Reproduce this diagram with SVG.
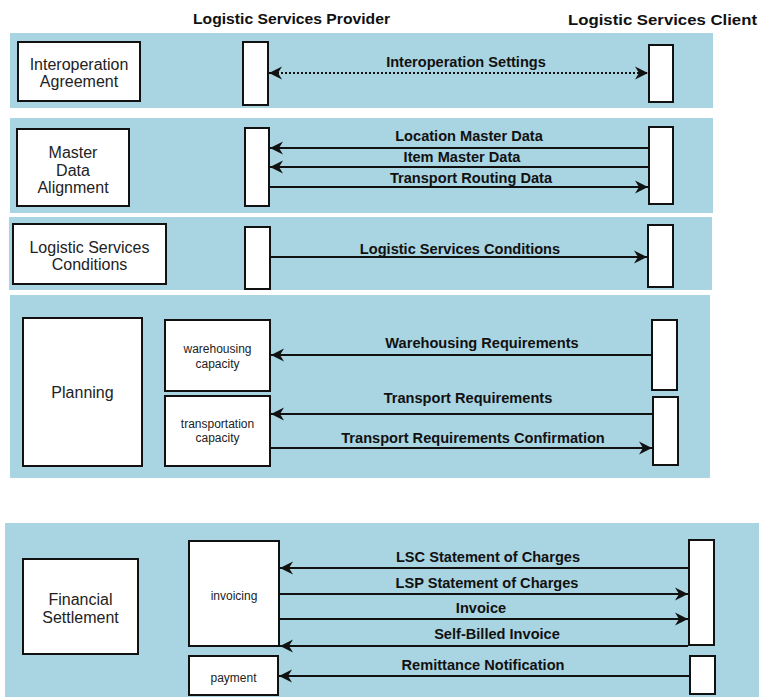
<svg xmlns="http://www.w3.org/2000/svg" width="759" height="697" viewBox="0 0 759 697">
<defs>
<style>
.band{fill:#a9d4e1;stroke:none}
.box{fill:#fff;stroke:#111;stroke-width:2}
.node{font-family:"Liberation Sans",Arial,sans-serif;font-size:16px;fill:#222;text-anchor:middle}
.small{font-family:"Liberation Sans",Arial,sans-serif;font-size:12px;fill:#222;text-anchor:middle}
.hdr{font-family:"Liberation Sans",Arial,sans-serif;font-size:15.5px;font-weight:bold;fill:#111}
.lbl{font-family:"Liberation Sans",Arial,sans-serif;font-size:14.6px;font-weight:bold;fill:#111;text-anchor:middle}
.msg{stroke:#111;stroke-width:2;fill:none}
.dot{stroke-dasharray:2,2}
</style>
<marker id="ah" markerUnits="userSpaceOnUse" markerWidth="14" markerHeight="14" refX="13" refY="6.5" orient="auto-start-reverse" viewBox="0 0 14 13">
<path d="M0,0 L13,6.5 L0,13 L4,6.5 z" fill="#111"/>
</marker>
</defs>
<rect width="759" height="697" fill="#fff"/>
<g id="headers">
<text class="hdr" x="193" y="24" textLength="197" lengthAdjust="spacingAndGlyphs">Logistic Services Provider</text>
<text class="hdr" x="568" y="25" textLength="189" lengthAdjust="spacingAndGlyphs">Logistic Services Client</text>
</g>
<g id="bands">
<rect class="band" x="10" y="33" width="703" height="75"/>
<rect class="band" x="10" y="118" width="703" height="95"/>
<rect class="band" x="9" y="217" width="703" height="73"/>
<rect class="band" x="10" y="295" width="700" height="183"/>
<rect class="band" x="5" y="523" width="754" height="174"/>
</g>
<g id="interoperation-agreement">
<rect class="box" x="18" y="42" width="122" height="59"/>
<text class="node" x="79" y="70">Interoperation</text>
<text class="node" x="79" y="87">Agreement</text>
</g>
<g id="master-data-alignment">
<rect class="box" x="17" y="129" width="112" height="77"/>
<text class="node" x="73" y="158">Master</text>
<text class="node" x="73" y="176">Data</text>
<text class="node" x="73" y="193">Alignment</text>
</g>
<g id="logistic-services-conditions">
<rect class="box" x="13" y="224" width="153" height="60"/>
<text class="node" x="89.5" y="253">Logistic Services</text>
<text class="node" x="89.5" y="270">Conditions</text>
</g>
<g id="planning">
<rect class="box" x="23" y="318" width="119" height="148"/>
<text class="node" x="82.5" y="398">Planning</text>
</g>
<g id="financial-settlement">
<rect class="box" x="23" y="559" width="115" height="95"/>
<text class="node" x="80.5" y="605">Financial</text>
<text class="node" x="80.5" y="623">Settlement</text>
</g>
<g id="provider-lifelines">
<rect class="box" x="243" y="42" width="25" height="63"/>
<rect class="box" x="245" y="128" width="24" height="78"/>
<rect class="box" x="245" y="227" width="25" height="62"/>
</g>
<g id="warehousing-capacity">
<rect class="box" x="165" y="320" width="105" height="71"/>
<text class="small" x="217.5" y="353">warehousing</text>
<text class="small" x="217.5" y="368">capacity</text>
</g>
<g id="transportation-capacity">
<rect class="box" x="165" y="396" width="105" height="70"/>
<text class="small" x="217.5" y="428">transportation</text>
<text class="small" x="217.5" y="442">capacity</text>
</g>
<g id="invoicing">
<rect class="box" x="189" y="541" width="90" height="105"/>
<text class="small" x="234" y="600">invoicing</text>
</g>
<g id="payment">
<rect class="box" x="189" y="656" width="89" height="39"/>
<text class="small" x="233.5" y="682">payment</text>
</g>
<g id="client-lifelines">
<rect class="box" x="649" y="45" width="24" height="57"/>
<rect class="box" x="649" y="127" width="24" height="77"/>
<rect class="box" x="648" y="225" width="25" height="62"/>
<rect class="box" x="652" y="320" width="25" height="70"/>
<rect class="box" x="653" y="397" width="25" height="68"/>
<rect class="box" x="689" y="540" width="25" height="105"/>
<rect class="box" x="690" y="656" width="25" height="38"/>
</g>
<g id="connectors">
<line class="msg dot" x1="269" y1="73" x2="648" y2="73" marker-start="url(#ah)" marker-end="url(#ah)"/>
<line class="msg" x1="648" y1="148" x2="270" y2="148" marker-end="url(#ah)"/>
<line class="msg" x1="648" y1="167" x2="270" y2="167" marker-end="url(#ah)"/>
<line class="msg" x1="270" y1="187" x2="648" y2="187" marker-end="url(#ah)"/>
<line class="msg" x1="271" y1="257" x2="647" y2="257" marker-end="url(#ah)"/>
<line class="msg" x1="651" y1="355" x2="271" y2="355" marker-end="url(#ah)"/>
<line class="msg" x1="652" y1="414" x2="271" y2="414" marker-end="url(#ah)"/>
<line class="msg" x1="271" y1="448" x2="652" y2="448" marker-end="url(#ah)"/>
<line class="msg" x1="688" y1="568" x2="280" y2="568" marker-end="url(#ah)"/>
<line class="msg" x1="280" y1="594" x2="688" y2="594" marker-end="url(#ah)"/>
<line class="msg" x1="280" y1="619" x2="688" y2="619" marker-end="url(#ah)"/>
<line class="msg" x1="688" y1="646" x2="280" y2="646" marker-end="url(#ah)"/>
<line class="msg" x1="689" y1="676" x2="279" y2="676" marker-end="url(#ah)"/>
</g>
<g id="connector-labels">
<text class="lbl" x="466" y="67">Interoperation Settings</text>
<text class="lbl" x="469" y="141">Location Master Data</text>
<text class="lbl" x="462" y="162">Item Master Data</text>
<text class="lbl" x="471" y="183">Transport Routing Data</text>
<text class="lbl" x="460" y="254">Logistic Services Conditions</text>
<text class="lbl" x="482" y="348">Warehousing Requirements</text>
<text class="lbl" x="468" y="403">Transport Requirements</text>
<text class="lbl" x="473" y="443">Transport Requirements Confirmation</text>
<text class="lbl" x="488" y="562">LSC Statement of Charges</text>
<text class="lbl" x="487" y="588">LSP Statement of Charges</text>
<text class="lbl" x="481" y="613">Invoice</text>
<text class="lbl" x="497" y="639">Self-Billed Invoice</text>
<text class="lbl" x="483" y="670">Remittance Notification</text>
</g>
</svg>
